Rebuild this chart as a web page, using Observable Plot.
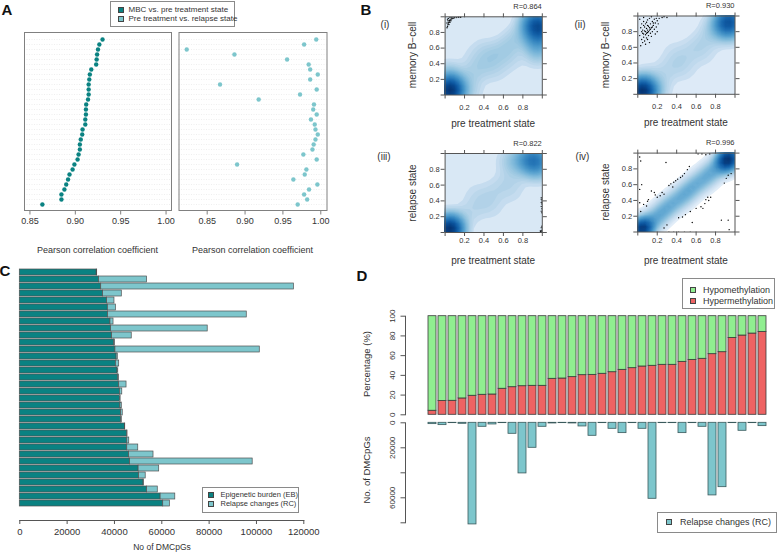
<!DOCTYPE html>
<html><head><meta charset="utf-8">
<script src="https://cdn.jsdelivr.net/npm/d3@7"></script>
<script src="https://cdn.jsdelivr.net/npm/@observablehq/plot@0.6"></script>
<style>
html,body{margin:0;padding:0;background:#fff;}
#root{position:relative;width:778px;height:552px;overflow:hidden;font-family:"Liberation Sans",Arial,sans-serif;color:#333;}
#root svg{position:absolute;overflow:visible;}
.t{position:absolute;white-space:nowrap;line-height:1;}
.box{position:absolute;border:1px solid #8a8a8a;background:#fff;box-sizing:border-box;}
.sw{position:absolute;width:6px;height:6px;border:1px solid #444;box-sizing:border-box;transform:translate(-50%,-50%);}
</style></head><body><div id="root"></div>
<script>
// ---------------- DATA ----------------
// Panel A: Pearson correlation per sample (top row first)
const aMBC = [0.930,0.9265,0.925,0.924,0.9235,0.923,0.9176,0.916,0.9154,0.9147,0.9147,0.9147,0.914,0.912,0.9117,0.9117,0.911,0.911,0.908,0.9076,0.906,0.905,0.905,0.9036,0.9025,0.899,0.897,0.8936,0.892,0.890,0.888,0.8847,0.8847,0.8637];
const aRelapse = [0.994,0.978,0.823,0.886,0.9555,0.984,0.986,0.996,0.986,0.867,0.9946,0.9726,0.918,0.991,0.990,0.9946,0.987,0.992,0.993,0.996,0.993,0.9906,0.989,0.977,0.9946,0.8895,0.981,0.9788,0.9638,0.9955,0.9845,0.978,0.982,0.9695];
const aTicks = [0.85, 0.90, 0.95, 1.00];
const aLegend = ["MBC vs. pre treatment state", "Pre treatment vs. relapse state"];
const aXLabel = "Pearson correlation coefficient";

// Panel B: density hot spots [x, y, weight] and sparse points [x, y]
const bTicks = [0, 0.2, 0.4, 0.6, 0.8, 1];
const bNames = ["(i)", "(ii)", "(iii)", "(iv)"];
const bR = ["R=0.864", "R=0.930", "R=0.822", "R=0.996"];
const bYLabels = ["memory B\u2212cell", "memory B\u2212cell", "relapse state", "relapse state"];
const bXLabel = "pre treatment state";
const bDens1 = [[0.03,0.04,12],[0.08,0.09,3],[0.03,0.16,2],[0.13,0.03,1.8],[0.03,0.28,0.9],[0.25,0.04,0.7],[0.15,0.15,0.9],
  [0.97,0.88,10],[0.92,0.94,3],[0.97,0.76,3.5],[0.96,0.64,1.8],[0.86,0.92,1.2],[0.95,0.52,1.0],[0.9,0.7,0.8],
  [0.25,0.25,0.6],[0.35,0.35,0.6],[0.45,0.45,0.6],[0.55,0.55,0.6],[0.65,0.65,0.6],[0.75,0.75,0.6],[0.85,0.8,0.6],
  [0.5,0.3,0.35],[0.7,0.5,0.4],[0.3,0.5,0.3],[0.6,0.4,0.35],[0.4,0.6,0.3]];
const bDens2 = [[0.03,0.03,12],[0.08,0.07,3],[0.03,0.12,2],[0.13,0.03,2],[0.2,0.07,0.8],[0.07,0.2,0.6],
  [0.94,0.92,9],[0.88,0.9,3],[0.97,0.96,2],[0.95,0.8,1.5],[0.8,0.86,0.9],
  [0.2,0.2,0.5],[0.3,0.3,0.5],[0.4,0.4,0.5],[0.5,0.5,0.5],[0.6,0.6,0.5],[0.7,0.7,0.5],[0.8,0.76,0.5],
  [0.5,0.3,0.3],[0.7,0.5,0.3],[0.35,0.55,0.25]];
const bDens3 = [[0.03,0.03,14],[0.08,0.08,3],[0.03,0.13,2],[0.13,0.03,2],
  [0.93,0.91,8],[0.85,0.93,3],[0.75,0.92,1.4],[0.96,0.8,1.8],[0.65,0.9,0.7],
  [0.2,0.2,0.45],[0.3,0.3,0.45],[0.4,0.4,0.45],[0.5,0.5,0.45],[0.6,0.6,0.45],[0.7,0.7,0.45],[0.8,0.8,0.45],
  [0.5,0.3,0.3],[0.3,0.5,0.3],[0.7,0.5,0.3]];
const bDens4 = [[0.03,0.03,8],[0.08,0.08,3],[0.93,0.92,8],[0.88,0.87,3],[0.97,0.97,2],
  [0.12,0.12,1.2],[0.17,0.17,1.2],[0.22,0.22,1.2],[0.27,0.27,1.2],[0.32,0.32,1.2],[0.37,0.37,1.2],[0.42,0.42,1.2],
  [0.47,0.47,1.2],[0.52,0.52,1.2],[0.57,0.57,1.2],[0.62,0.62,1.2],[0.67,0.67,1.2],[0.72,0.72,1.2],[0.77,0.77,1.2],[0.82,0.82,1.2]];
const bPts1 = [[0.02,0.86],[0.025,0.88],[0.03,0.9],[0.035,0.92],[0.04,0.93],[0.045,0.95],[0.05,0.96],[0.06,0.97],[0.07,0.975],[0.08,0.98],[0.09,0.985],[0.1,0.99],[0.12,0.99],[0.14,0.995],[0.16,0.995],[0.03,0.95],[0.04,0.9],[0.05,0.93],[0.06,0.95],[0.025,0.97],[0.035,0.98],[0.05,0.99],[0.07,0.99],[0.02,0.92]];
const bPts2 = [[0.03,0.62],[0.05,0.66],[0.04,0.7],[0.07,0.68],[0.06,0.73],[0.09,0.72],[0.08,0.76],[0.11,0.75],[0.05,0.78],[0.1,0.79],[0.13,0.78],[0.07,0.81],[0.12,0.82],[0.15,0.8],[0.09,0.84],[0.14,0.85],[0.17,0.83],[0.11,0.87],[0.16,0.88],[0.19,0.86],[0.13,0.9],[0.18,0.91],[0.08,0.9],[0.15,0.93],[0.2,0.94],[0.1,0.95],[0.06,0.93],[0.03,0.85],[0.04,0.9],[0.22,0.97],[0.25,0.98],[0.12,0.97],[0.17,0.96],[0.02,0.96],[0.06,0.98],[0.1,0.7],[0.14,0.74],[0.18,0.77],[0.21,0.9],[0.08,0.64],[0.3,0.98],[0.02,0.75],[0.2,0.8],[0.12,0.66],
  [0.06,0.77],[0.08,0.8],[0.1,0.82],[0.07,0.86],[0.1,0.88],[0.12,0.85],[0.05,0.82],[0.09,0.78],[0.11,0.8],[0.13,0.83],[0.15,0.86],[0.06,0.88],[0.04,0.8],[0.16,0.91],[0.19,0.97],[0.27,0.99],[0.14,0.99],[0.09,0.92]];
const bPts3 = [[0.99,0.44],[0.99,0.42],[0.995,0.4],[0.99,0.38],[0.995,0.36],[0.99,0.33],[0.995,0.3],[0.99,0.27],[0.995,0.25],[0.99,0.06],[0.995,0.03],[0.99,0.02],[0.985,0.01],[0.995,0.005],[0.98,0.02],[0.995,0.08]];
const bPts4 = [[0.02,0.95],[0.03,0.9],[0.29,0.88],[0.02,0.54],[0.02,0.37],[0.03,0.26],[0.06,0.35],[0.09,0.33],[0.1,0.39],[0.11,0.41],[0.17,0.5],[0.18,0.47],[0.23,0.46],[0.25,0.5],[0.27,0.48],[0.32,0.59],[0.34,0.61],[0.36,0.57],[0.37,0.63],[0.39,0.65],[0.41,0.67],[0.44,0.69],[0.46,0.71],[0.48,0.74],[0.51,0.79],[0.53,0.83],[0.62,0.99],[0.66,0.99],[0.7,0.98],[0.74,0.99],[0.42,0.18],[0.46,0.19],[0.49,0.22],[0.54,0.26],[0.6,0.3],[0.65,0.32],[0.7,0.41],[0.72,0.44],[0.75,0.44],[0.73,0.4],[0.27,0.05],[0.3,0.09],[0.32,0.0],[0.37,0.0],[0.42,0.0],[0.48,0.0],[0.54,0.0],[0.86,0.15],[0.93,0.15],[0.94,0.03],[0.89,0.62],[0.91,0.68],[0.93,0.72],[0.96,0.74],[0.56,0.12],[0.04,0.6],[0.2,0.44],[0.14,0.52],[0.67,0.3],[0.69,0.36]];

// Panel C: DMCpGs per sample (top row first)
const cEB = [32500,33500,34400,35200,36900,37200,37300,38300,38600,39000,39900,40400,40900,40600,41300,41600,42000,42300,42300,42500,42800,42800,44400,45400,45400,45400,46200,46600,50200,50400,52300,53800,59500,60600];
const cRC = [200,20300,81400,7900,3100,3400,58600,1300,40800,8300,300,61000,500,1400,300,300,3100,1000,300,600,700,300,150,100,850,4650,10300,51800,8700,2800,100,4500,6200,2800];
const cTicks = [0,20000,40000,60000,80000,100000,120000];
const cLegend = ["Epigenetic burden (EB)", "Relapse changes (RC)"];
const cXLabel = "No of DMCpGs";

// Panel D: % hypermethylation and relapse changes per sample (left to right)
const dHyper = [4.1,13.9,14.2,16.6,19.3,20.3,20.6,26.4,28,29,29.4,29.4,36.5,36.8,38.2,40.2,40.5,41.6,43.2,45.6,47.3,49,49.7,50.7,50.7,53.7,55.7,56.8,61.5,63.5,78,80.4,82.4,84.1];
const dRC = [1070,1870,270,800,81300,3200,1330,270,8800,40500,20000,3200,530,270,530,2930,10400,270,4800,8270,270,4800,60800,270,270,8270,270,3200,58100,51500,270,6400,270,2670];
const dPctTicks = [0,20,40,60,80,100];
const dRCTicks = [0,20000,40000,60000,80000];
const dRCTickLabels = [0,20000,60000];
const dLegendTop = ["Hypomethylation", "Hypermethylation"];
const dLegendBottom = ["Relapse changes (RC)"];
const dYLabels = ["Percentage (%)", "No. of DMCpGs"];

// ---------------- HELPERS ----------------
const DARK = "#0a8282", LIGHT = "#7dc6cc", GREEN = "#90ee90", RED = "#ee6363";
const FONT = "Liberation Sans, Arial, sans-serif";
const root = document.getElementById("root");
function place(svg, left, top) { svg.style.left = left + "px"; svg.style.top = top + "px"; root.appendChild(svg); }
function txt(str, x, y, o = {}) {
  const d = document.createElement("div"); d.className = "t"; d.textContent = str;
  d.style.left = x + "px"; d.style.top = y + "px"; d.style.fontSize = (o.size || 9) + "px";
  if (o.bold) d.style.fontWeight = "bold";
  if (o.color) d.style.color = o.color;
  const ax = o.anchor === "start" ? "0%" : o.anchor === "end" ? "-100%" : "-50%";
  d.style.transform = `translate(${ax},-50%)` + (o.rotate ? ` rotate(${o.rotate}deg)` : "");
  root.appendChild(d);
}
function box(x, y, w, h) { const d = document.createElement("div"); d.className = "box"; Object.assign(d.style, {left: x + "px", top: y + "px", width: w + "px", height: h + "px"}); root.appendChild(d); }
function swatch(x, y, c) { const d = document.createElement("div"); d.className = "sw"; Object.assign(d.style, {left: x + "px", top: y + "px", background: c}); root.appendChild(d); }
const baseStyle = {fontFamily: FONT, color: "#333", background: "transparent", overflow: "visible"};

// ---------------- PANEL A ----------------
const aIdx = d3.range(aMBC.length);
function dotPanel(values, color, xdom, w, ml, mr) {
  return Plot.plot({
    width: w, height: 200, marginLeft: ml, marginRight: mr, marginTop: 4, marginBottom: 18,
    style: baseStyle,
    x: {domain: xdom}, y: {type: "point", domain: aIdx, padding: 0.95, axis: null},
    marks: [
      Plot.ruleY(aIdx, {y: d => d, stroke: "#e4e4e4", strokeWidth: 0.6, strokeDasharray: "1,1.5"}),
      Plot.dot(values, {x: d => d, y: (d, i) => i, r: 2.2, fill: color}),
      Plot.frame({stroke: "#808080"}),
      Plot.axisX({ticks: aTicks, tickSize: 4.5, tickPadding: 3, tickFormat: d3.format(".2f"), fontSize: 9, label: null, stroke: "#808080"})
    ]
  });
}
place(dotPanel(aMBC, DARK, [0.844, 1.006], 180, 24, 9), 0, 28);
place(dotPanel(aRelapse, LIGHT, [0.8128, 1.0082], 160, 3.5, 8.5), 175, 28);
txt(aXLabel, 97.5, 250, {size: 9});
txt(aXLabel, 252.5, 250, {size: 9});
box(110, 1, 125, 26);
swatch(120.7, 10, DARK); swatch(120.7, 19, LIGHT);
txt(aLegend[0], 128.5, 10, {size: 8, anchor: "start"});
txt(aLegend[1], 128.5, 19, {size: 8, anchor: "start"});
txt("A", 7, 8.5, {size: 15, bold: true, color: "#111"});

// ---------------- PANEL B ----------------
const bDens = [bDens1, bDens2, bDens3, bDens4];
const bPts = [bPts1, bPts2, bPts3, bPts4];
const bPos = [
  {left: 400, top: 0, ml: 44.6, mr: 38.2, mt: 16.3, mb: 40.5, lo: 0.15, bw: 6, pad: 5.5},
  {left: 592, top: 0, ml: 45.3, mr: 37.5, mt: 15.5, mb: 41.2, lo: 0.13, bw: 6, pad: 5.5},
  {left: 400, top: 138, ml: 44.6, mr: 38.2, mt: 15, mb: 41, lo: 0.15, bw: 6, pad: 1.5},
  {left: 592, top: 138, ml: 45.3, mr: 37.5, mt: 14.6, mb: 41.5, lo: 0.0, bw: 5, pad: 1.5}
];
const fmtMid = d => (d > 0.01 && d < 0.99) ? d3.format(".1f")(d) : "";
bPos.forEach((p, k) => {
  const W = 180, H = 135;
  const lo = p.lo;
  const bg = k === 3 ? "#ffffff" : d3.interpolateBlues(lo);
  const svg = Plot.plot({
    width: W, height: H, marginLeft: p.ml, marginRight: p.mr, marginTop: p.mt, marginBottom: p.mb,
    style: baseStyle,
    x: {domain: [0, 1]}, y: {domain: [0, 1]},
    color: {type: "pow", exponent: 0.5, interpolate: t => d3.interpolateBlues(lo + (0.98 - lo) * t)},
    marks: [
      Plot.frame({fill: bg}),
      Plot.density(bDens[k], {x: d => d[0], y: d => d[1], weight: d => d[2], bandwidth: p.bw, thresholds: 80, fill: "density", clip: true}),
      Plot.dot(bPts[k], {x: d => d[0], y: d => d[1], r: 0.7, fill: "#000", clip: true}),
      Plot.frame({stroke: "#555"}),
      Plot.axisX({anchor: "bottom", ticks: bTicks, tickSize: 4, tickPadding: p.pad, tickFormat: fmtMid, fontSize: 7.5, label: null, stroke: "#555"}),
      Plot.axisX({anchor: "top", ticks: bTicks, tickSize: 4, tickFormat: () => "", label: null, stroke: "#555"}),
      Plot.axisY({anchor: "left", ticks: bTicks, tickSize: 4, tickPadding: 1.5, tickFormat: fmtMid, fontSize: 7.5, label: null, stroke: "#555"}),
      Plot.axisY({anchor: "right", ticks: bTicks, tickSize: 4, tickFormat: () => "", label: null, stroke: "#555"})
    ]
  });
  place(svg, p.left, p.top);
  const fl = p.left + p.ml, fr = p.left + W - p.mr, ft = p.top + p.mt, fb = p.top + H - p.mb;
  txt(bR[k], fr, ft - 9.5, {size: 7.5, anchor: "end"});
  txt(bXLabel, (fl + fr) / 2, fb + 29, {size: 10});
  txt(bYLabels[k], fl - 31.5, (ft + fb) / 2, {size: 10, rotate: -90});
});
txt(bNames[0], 385, 25, {size: 10});
txt(bNames[1], 580, 25, {size: 10});
txt(bNames[2], 384, 157, {size: 10});
txt(bNames[3], 582.5, 157, {size: 10});
txt("B", 366, 9, {size: 15, bold: true, color: "#111"});

// ---------------- PANEL C ----------------
const cIdx = d3.range(cEB.length);
place(Plot.plot({
  width: 330, height: 290, marginLeft: 19.3, marginRight: 26.7, marginTop: 5.2, marginBottom: 32,
  style: baseStyle,
  x: {domain: [0, 120000]},
  y: {type: "band", domain: cIdx, padding: 0.15, insetBottom: 11.4, axis: null},
  marks: [
    Plot.barX(cEB, {x1: 0, x2: d => d, y: (d, i) => i, fill: DARK, stroke: "#505050", strokeWidth: 0.7}),
    Plot.barX(cRC, {x1: (d, i) => cEB[i], x2: (d, i) => cEB[i] + d, y: (d, i) => i, fill: LIGHT, stroke: "#505050", strokeWidth: 0.7}),
    Plot.frame({anchor: "bottom", stroke: "#555"}),
    Plot.axisX({ticks: cTicks, tickSize: 4, tickPadding: 4, tickFormat: d => String(d), fontSize: 9.5, label: null, stroke: "#555"})
  ]
}), 0, 262);
txt(cXLabel, 162, 546.5, {size: 8.5});
box(201.7, 487, 97.3, 26.3);
swatch(210.7, 495.3, DARK); swatch(210.7, 503.8, LIGHT);
txt(cLegend[0], 220.5, 495.3, {size: 7.5, anchor: "start"});
txt(cLegend[1], 220.5, 503.8, {size: 7.5, anchor: "start"});
txt("C", 5, 270, {size: 15, bold: true, color: "#111"});

// ---------------- PANEL D ----------------
const dIdx = d3.range(dHyper.length);
const dX = {type: "band", domain: dIdx, paddingInner: 0.21, paddingOuter: 0.1, insetLeft: 13.3, axis: null};
place(Plot.plot({
  width: 418, height: 120, marginLeft: 45, marginRight: 2.8, marginTop: 15.7, marginBottom: 5.7,
  style: baseStyle, x: dX, y: {domain: [0, 100]},
  marks: [
    Plot.barY(dHyper, {x: (d, i) => i, y1: 0, y2: d => d, fill: RED, stroke: "#3a3a3a", strokeWidth: 0.8}),
    Plot.barY(dHyper, {x: (d, i) => i, y1: d => d, y2: 100, fill: GREEN, stroke: "#3a3a3a", strokeWidth: 0.8}),
    Plot.frame({anchor: "left", stroke: "#555"}),
    Plot.axisY({ticks: dPctTicks, tickSize: 4.5, tickFormat: () => "", label: null, stroke: "#555"}),
    Plot.text(dPctTicks, {y: d => d, text: d => String(d), frameAnchor: "left", textAnchor: "middle", lineAnchor: "middle", dx: -13, rotate: -90, fontSize: 8})
  ]
}), 360, 300);
place(Plot.plot({
  width: 418, height: 132, marginLeft: 45, marginRight: 2.8, marginTop: 2.3, marginBottom: 29.7,
  style: baseStyle, x: dX, y: {domain: [0, 80000], reverse: true},
  marks: [
    Plot.barY(dRC, {x: (d, i) => i, y1: 0, y2: d => d, fill: LIGHT, stroke: "#3a5a5c", strokeWidth: 0.8}),
    Plot.frame({anchor: "left", stroke: "#555"}),
    Plot.axisY({ticks: dRCTicks, tickSize: 4.5, tickFormat: () => "", label: null, stroke: "#555"}),
    Plot.text(dRCTickLabels, {y: d => d, text: d => String(d), frameAnchor: "left", textAnchor: "middle", lineAnchor: "middle", dx: -13, rotate: -90, fontSize: 8})
  ]
}), 360, 420);
txt(dYLabels[0], 366.7, 364, {size: 9.5, rotate: -90});
txt(dYLabels[1], 366.7, 470, {size: 9.5, rotate: -90});
box(682.3, 278.3, 92.7, 31);
swatch(693.3, 290, GREEN); swatch(693.3, 300.7, RED);
txt(dLegendTop[0], 703, 290, {size: 9, anchor: "start"});
txt(dLegendTop[1], 703, 300.7, {size: 9, anchor: "start"});
box(656.7, 511.7, 120, 21.6);
swatch(668.7, 522.3, LIGHT);
txt(dLegendBottom[0], 680, 522.3, {size: 9, anchor: "start"});
txt("D", 362, 275, {size: 15, bold: true, color: "#111"});
</script></body></html>
